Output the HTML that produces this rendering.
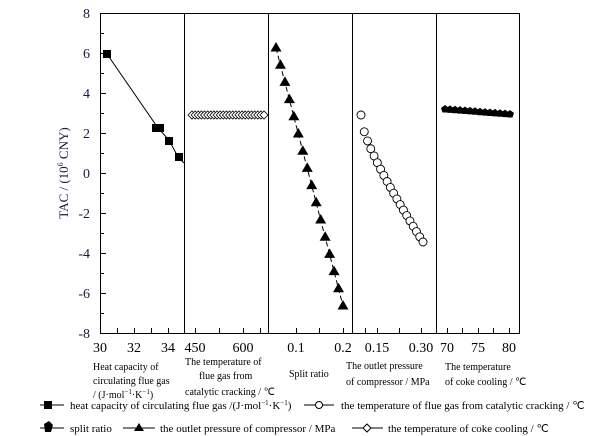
<!DOCTYPE html>
<html><head><meta charset="utf-8"><style>
html,body{margin:0;padding:0;background:#fff;}
svg{display:block;font-family:"Liberation Serif",serif;}
</style></head><body>
<svg id="s" width="606" height="436" viewBox="0 0 606 436" xmlns="http://www.w3.org/2000/svg">
<rect width="606" height="436" fill="#fff"/>
<g stroke="#000" stroke-width="1" fill="none">
<rect x="100.5" y="13.5" width="419" height="320"/>
<line x1="184.5" y1="13" x2="184.5" y2="333"/>
<line x1="268.5" y1="13" x2="268.5" y2="333"/>
<line x1="352.5" y1="13" x2="352.5" y2="333"/>
<line x1="436.5" y1="13" x2="436.5" y2="333"/>
</g>
<g id="ticks" stroke="#000" stroke-width="1"></g>
<g font-size="14" fill="#1a1a40" text-anchor="end">
<text x="90" y="18">8</text><text x="90" y="58">6</text><text x="90" y="98">4</text><text x="90" y="138">2</text><text x="90" y="178">0</text><text x="90" y="218">-2</text><text x="90" y="258">-4</text><text x="90" y="298">-6</text><text x="90" y="338">-8</text>
</g>
<text transform="translate(68,173) rotate(-90)" font-size="13" fill="#1a1a40" text-anchor="middle">TAC / (10<tspan font-size="8" dy="-5">6</tspan><tspan dy="5"> CNY)</tspan></text>
<g font-size="14" text-anchor="middle" fill="#000">
<text x="100" y="352">30</text><text x="134" y="352">32</text><text x="168" y="352">34</text>
<text x="195" y="352">450</text><text x="243" y="352">600</text>
<text x="296" y="352">0.1</text><text x="343" y="352">0.2</text>
<text x="377" y="352">0.15</text><text x="421" y="352">0.30</text>
<text x="447" y="352">70</text><text x="478" y="352">75</text><text x="509" y="352">80</text>
</g>
<g font-size="10" fill="#000">
<text x="93" y="370">Heat capacity of</text>
<text x="93" y="384">circulating flue gas</text>
<text x="93" y="398">/ (J·mol<tspan font-size="7" dy="-4">−1</tspan><tspan dy="4">·K</tspan><tspan font-size="7" dy="-4">−1</tspan><tspan dy="4">)</tspan></text>
<text x="185" y="365">The temperature of</text>
<text x="199" y="379">flue gas from</text>
<text x="185" y="395">catalytic cracking / ℃</text>
<text x="289" y="377">Split ratio</text>
<text x="346" y="369">The outlet pressure</text>
<text x="346" y="385">of compressor / MPa</text>
<text x="445" y="370">The temperature</text>
<text x="445" y="385">of coke cooling / ℃</text>
</g>
<g font-size="11" fill="#000">
<line x1="40" y1="405" x2="64" y2="405" stroke="#000"/><rect x="44" y="401" width="8" height="8"/>
<text x="70" y="409">heat capacity of circulating flue gas /(J·mol<tspan font-size="7" dy="-4">−1</tspan><tspan dy="4">·K</tspan><tspan font-size="7" dy="-4">−1</tspan><tspan dy="4">)</tspan></text>
<line x1="304" y1="405" x2="334" y2="405" stroke="#000"/><circle cx="319" cy="405" r="3.5" fill="#fff" stroke="#000"/>
<text x="341" y="409">the temperature of flue gas from catalytic cracking / ℃</text>
<line x1="40" y1="428" x2="64" y2="428" stroke="#000"/><polygon points="44,424 49,421 53,425 51,432 45,432" fill="#000"/>
<text x="70" y="432">split ratio</text>
<line x1="123" y1="428" x2="155" y2="428" stroke="#000"/><polygon points="139,423 144,431 134,431" fill="#000"/>
<text x="160" y="432">the outlet pressure of compressor / MPa</text>
<line x1="352" y1="428" x2="383" y2="428" stroke="#000"/><polygon points="367,424 371,428 367,432 363,428" fill="#fff" stroke="#000"/>
<text x="388" y="432">the temperature of coke cooling / ℃</text>
</g>
<g id="data"></g>
</svg>
<script>
var NS="http://www.w3.org/2000/svg";
function el(t,a,p){var e=document.createElementNS(NS,t);for(var k in a)e.setAttribute(k,a[k]);(p||document.getElementById('data')).appendChild(e);return e;}
var tk=document.getElementById('ticks');
for(var v=-7;v<8;v++){var y=173-v*20;var L=(v%2==0)?5:3;el('line',{x1:101,y1:y+.5,x2:101+L,y2:y+.5},tk);}
[100,117,134,151,168,195,219,243,260,296,319,343,365,377,399,421,447,462,478,493,509].forEach(function(x){el('line',{x1:x+.5,y1:333,x2:x+.5,y2:328},tk);});
el('polyline',{points:"107,54 158,128 169,140 178,157 184,163",fill:"none",stroke:"#000"});
[[107,54],[156,128],[160,128],[169,141],[179,157]].forEach(function(p){el('rect',{x:p[0]-4,y:p[1]-4,width:8,height:8,fill:"#000"});});
el('line',{x1:192,y1:115,x2:264,y2:115,stroke:"#000"});
for(var i=0;i<24;i++){var x=192+i*72/23;el('polygon',{points:(x-4)+",115 "+x+",111 "+(x+4)+",115 "+x+",119",fill:"#fff",stroke:"#000","stroke-width":0.8});}
var pts=[];for(var i=0;i<16;i++){pts.push([276+i*67/15,48+i*258/15]);}
el('polyline',{points:pts.map(function(p){return p.join(',')}).join(' '),fill:"none",stroke:"#000","stroke-dasharray":"5,3"});
pts.forEach(function(p){el('polygon',{points:p[0]+","+(p[1]-6)+" "+(p[0]+5.5)+","+(p[1]+3.5)+" "+(p[0]-5.5)+","+(p[1]+3.5),fill:"#000"});});
for(var i=0;i<20;i++){var t=i/19;var x=361+62*t;var y=115+127*(0.55*t+0.45*Math.sqrt(t));el('circle',{cx:x,cy:y,r:4,fill:"#fff",stroke:"#000","stroke-width":0.9});}
for(var i=0;i<14;i++){var x=445+i*65/13;var y=109+i*5/13;el('polygon',{points:(x)+","+(y-4)+" "+(x+4)+","+(y-1)+" "+(x+2.5)+","+(y+3.5)+" "+(x-2.5)+","+(y+3.5)+" "+(x-4)+","+(y-1),fill:"#000"});}
el('line',{x1:445,y1:109,x2:510,y2:114,stroke:"#000","stroke-width":4});
</script>
</body></html>
